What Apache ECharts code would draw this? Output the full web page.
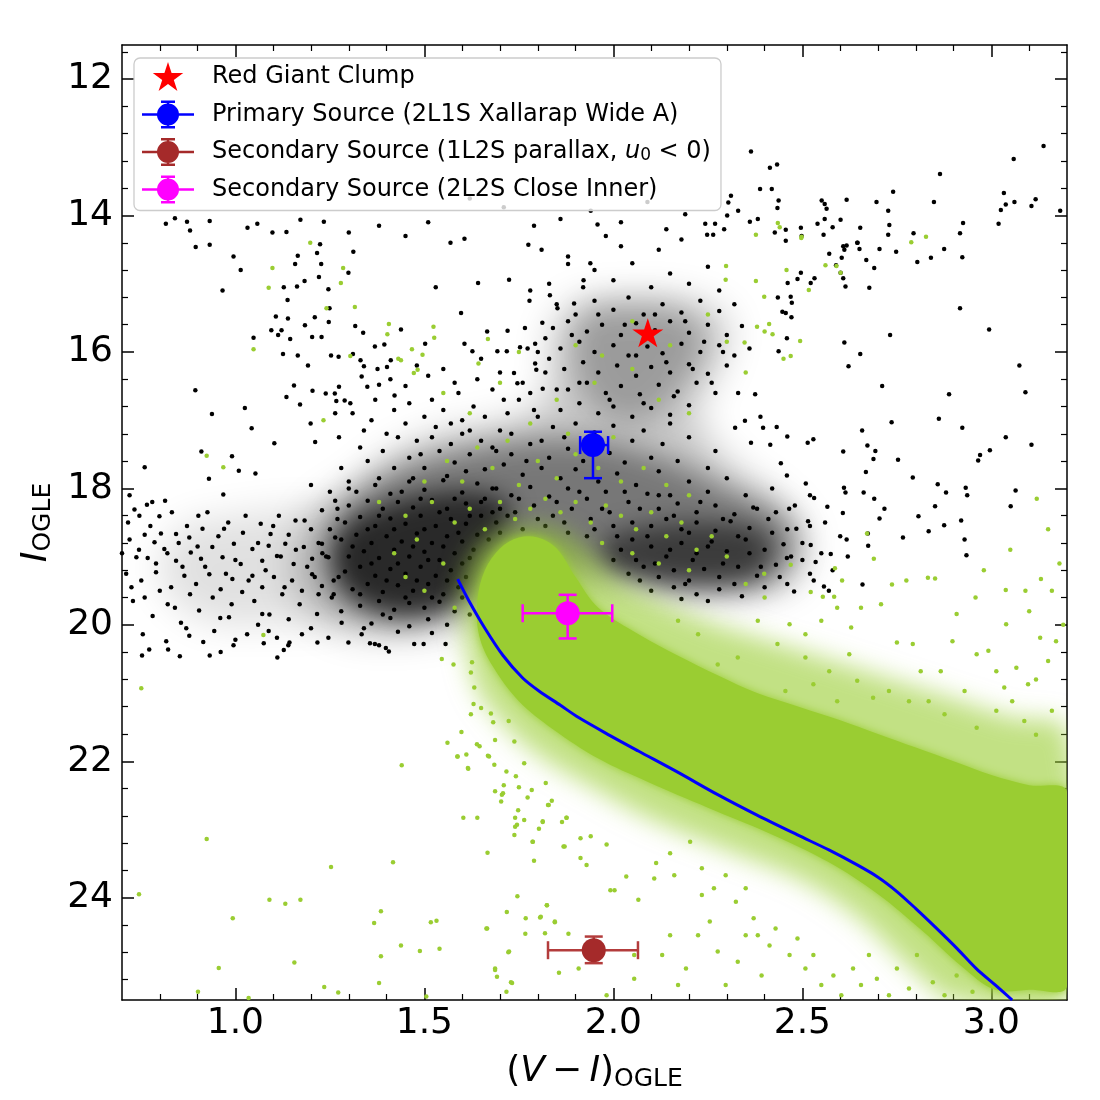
<!DOCTYPE html>
<html>
<head>
<meta charset="utf-8">
<script src="https://cdn.jsdelivr.net/npm/echarts@6/dist/echarts.min.js"></script>
<style>
html, body { margin: 0; padding: 0; background: #fff; }
#chart { width: 1100px; height: 1100px; }
</style>
</head>
<body>
<div id="chart"></div>
<script>
// axis ticks
var xMajorTicks = [1.0, 1.5, 2.0, 2.5, 3.0];
var xMinorTicks = [0.8, 0.9, 1.1, 1.2, 1.3, 1.4, 1.6, 1.7, 1.8, 1.9, 2.1, 2.2, 2.3, 2.4, 2.6, 2.7, 2.8, 2.9, 3.1];
var yMajorTicks = [12, 14, 16, 18, 20, 22, 24];
var yMinorTicks = [11.6, 12.4, 12.8, 13.2, 13.6, 14.4, 14.8, 15.2, 15.6, 16.4, 16.8, 17.2, 17.6, 18.4, 18.8, 19.2, 19.6,
    20.4, 20.8, 21.2, 21.6, 22.4, 22.8, 23.2, 23.6, 24.4, 24.8, 25.2];

// legend labels
var legendNames = [
    'Red Giant Clump',
    'Primary Source (2L1S Xallarap Wide A)',
    'Secondary Source (1L2S parallax, u0 < 0)',
    'Secondary Source (2L2S Close Inner)'
];

// [V-I, I]
var clumpStar = [2.091, 15.72];
// [x, y, xLow, xHigh, yLow, yHigh]
var primarySource = [1.946, 17.365, 1.912, 1.986, 17.17, 17.85];
var parallaxSource = [1.948, 24.77, 1.827, 2.065, 24.57, 24.96];
var closeInnerSource = [1.879, 19.83, 1.76, 1.997, 19.56, 20.2];

// isochrone
var isochrone = [[1.588, 19.33], [1.618, 19.65], [1.66, 20.05], [1.708, 20.45], [1.76, 20.78], [1.803, 20.97],
    [1.86, 21.18], [1.908, 21.36], [1.99, 21.62], [2.066, 21.85], [2.17, 22.16], [2.276, 22.49], [2.38, 22.79],
    [2.487, 23.08], [2.57, 23.3], [2.645, 23.52], [2.7, 23.7], [2.75, 23.91], [2.8, 24.16], [2.855, 24.45],
    [2.91, 24.75], [2.96, 25.04], [3.01, 25.28], [3.055, 25.5]];

// outlines of the crowded parts of the OGLE field cloud
var fieldWide = [[1.2, 18.4], [1.3, 18.0], [1.42, 17.5], [1.55, 17.2], [1.7, 17.05], [1.82, 16.7], [1.84, 15.7],
    [1.9, 15.3], [2.05, 15.2], [2.2, 15.25], [2.3, 15.55], [2.28, 16.2], [2.22, 16.9], [2.3, 17.6], [2.42, 18.1],
    [2.5, 18.6], [2.5, 19.2], [2.42, 19.5], [2.2, 19.55], [2.0, 19.4], [1.75, 19.6], [1.6, 20.0], [1.4, 20.15],
    [1.25, 20.0], [1.15, 19.3]];
var fieldLeftBand = [[0.85, 18.6], [1.0, 18.4], [1.2, 18.3], [1.32, 18.5], [1.32, 19.8], [1.1, 20.0], [0.9, 19.9],
    [0.8, 19.3]];
var fieldMid = [[1.28, 18.3], [1.4, 17.8], [1.55, 17.5], [1.75, 17.3], [1.95, 17.3], [2.15, 17.6], [2.3, 18.0],
    [2.45, 18.4], [2.48, 18.9], [2.42, 19.35], [2.2, 19.5], [2.0, 19.3], [1.8, 19.2], [1.65, 19.6], [1.5, 19.95],
    [1.35, 19.9], [1.25, 19.3]];
var fieldBlob = [[1.3, 18.55], [1.4, 18.25], [1.5, 18.1], [1.62, 18.05], [1.72, 18.2], [1.72, 18.6], [1.66, 19.0],
    [1.62, 19.5], [1.52, 19.8], [1.4, 19.8], [1.3, 19.5], [1.26, 19.0]];
var fieldSubgiant = [[1.98, 18.75], [2.1, 18.55], [2.25, 18.5], [2.38, 18.6], [2.42, 18.9], [2.38, 19.3],
    [2.25, 19.4], [2.1, 19.35], [1.98, 19.15]];
var fieldClump = [[1.92, 15.45], [2.05, 15.3], [2.2, 15.45], [2.24, 15.9], [2.18, 16.5], [2.08, 17.0], [1.97, 16.9],
    [1.9, 16.3]];

// outlines of the crowded parts of the simulated (green) cloud
var modelWide = [[1.6, 19.6], [1.62, 19.1], [1.68, 18.7], [1.76, 18.55], [1.85, 18.6], [1.93, 18.9], [2.0, 19.3],
    [2.1, 19.6], [2.25, 19.95], [2.45, 20.3], [2.65, 20.65], [2.85, 21.0], [3.05, 21.35], [3.2, 21.55], [3.2, 25.5],
    [2.9, 25.5], [2.8, 25.1], [2.65, 24.3], [2.5, 23.75], [2.3, 23.3], [2.1, 22.85], [1.95, 22.4], [1.8, 21.9],
    [1.7, 21.4], [1.63, 20.8]];
var modelCore = [[1.64, 19.65], [1.66, 19.2], [1.7, 18.88], [1.75, 18.72], [1.8, 18.72], [1.85, 18.88], [1.9, 19.3],
    [1.96, 19.75], [2.07, 20.15], [2.17, 20.45], [2.28, 20.75], [2.38, 21.0], [2.49, 21.2], [2.6, 21.4], [2.7, 21.6],
    [2.8, 21.8], [2.9, 22.0], [3.0, 22.2], [3.1, 22.35], [3.2, 22.45], [3.2, 25.3], [3.1, 25.35], [3.01, 25.35],
    [2.92, 25.0], [2.82, 24.5], [2.7, 23.95], [2.57, 23.48], [2.41, 23.05], [2.25, 22.68], [2.09, 22.3],
    [1.96, 21.96], [1.84, 21.53], [1.75, 21.12], [1.68, 20.6], [1.645, 20.16]];

// OGLE field stars (black)
var fieldStars = [
    [0.816, 14.12], [0.84, 14.04], [0.872, 14.09], [0.88, 14.22], [0.895, 14.46], [0.932, 14.08], [0.932, 14.43],
    [0.966, 15.1], [0.995, 14.6], [1.014, 14.8], [1.032, 14.18], [1.058, 14.12], [1.098, 14.25], [1.135, 14.24],
    [1.172, 14.06], [1.234, 14.09], [0.894, 16.56], [0.938, 16.91], [0.76, 17.69], [0.91, 17.46], [0.93, 17.86],
    [0.968, 18.09], [0.991, 17.53], [1.009, 17.74], [1.025, 16.82], [1.043, 17.12], [1.053, 17.78], [1.048, 15.79],
    [1.103, 17.34], [1.128, 15.05], [1.126, 16.03], [1.138, 15.24], [1.158, 14.71], [1.163, 15.04], [1.165, 14.59],
    [1.224, 14.42], [1.227, 14.71], [1.216, 14.55], [1.221, 14.9], [1.183, 14.96], [1.246, 15.08], [1.312, 14.53],
    [1.299, 14.84], [1.249, 15.36], [1.107, 15.48], [1.139, 15.51], [1.122, 15.68], [1.113, 15.75], [1.095, 15.68],
    [1.145, 15.81], [1.184, 15.61], [1.21, 15.49], [1.228, 15.78], [1.247, 15.56], [1.165, 16.05], [1.203, 15.78],
    [1.192, 16.2], [1.155, 16.49], [1.204, 16.57], [1.135, 16.66], [1.171, 16.77], [1.199, 17.05], [1.211, 17.32],
    [1.239, 16.61], [1.263, 16.61], [1.274, 16.51], [1.267, 16.72], [1.289, 16.71], [1.304, 16.75], [1.264, 16.9],
    [1.274, 17.25], [1.311, 16.03], [1.253, 16.05], [1.273, 16.07], [1.331, 16.12], [1.334, 16.36], [1.349, 16.51],
    [1.376, 16.25], [1.38, 16.48], [1.369, 15.92], [1.338, 15.72], [1.317, 15.62], [1.34, 16.21], [1.401, 16.22],
    [1.394, 15.89], [1.411, 16.12], [1.421, 16.64], [1.438, 15.67], [1.502, 15.88], [1.53, 15.05], [1.569, 14.4],
    [1.606, 14.34], [1.597, 15.43], [1.606, 15.88], [1.627, 15.99], [1.666, 15.7], [1.693, 15.99], [1.718, 15.99],
    [1.724, 14.94], [1.642, 14.99], [1.775, 14.43], [1.81, 14.5], [1.88, 14.71], [1.939, 14.7], [1.958, 14.13],
    [1.921, 14.95], [1.778, 15.25], [1.832, 15.17], [1.852, 15.36], [1.896, 15.29], [1.812, 15.57], [1.766, 15.65],
    [1.72, 15.69], [1.753, 15.93], [1.773, 15.95], [1.793, 15.88], [1.737, 16.31], [1.746, 16.46], [1.796, 16.26],
    [1.813, 16.54], [1.793, 16.17],
    [1.62, 13.75], [1.71, 13.88], [1.79, 14.15], [1.86, 14.05], [1.94, 13.93], [2.02, 14.1], [2.09, 13.8],
    [2.14, 14.2], [2.19, 13.98], [1.51, 14.1], [1.45, 14.3], [1.38, 14.15], [1.3, 14.25], [0.72, 18.1], [0.78, 18.2],
    // top right
    [2.364, 13.06], [2.414, 13.3], [2.433, 13.25], [2.388, 13.61], [2.419, 13.61], [2.437, 13.78], [2.434, 13.89],
    [2.311, 13.71], [2.304, 13.81], [2.33, 13.93], [2.301, 14.0], [2.243, 14.12], [2.269, 14.12], [2.293, 14.2],
    [2.248, 14.28], [2.264, 14.28], [2.361, 14.09], [2.382, 14.05], [2.427, 14.25], [2.456, 14.21], [2.456, 14.37],
    [2.496, 14.18], [2.498, 14.3], [2.54, 14.12], [2.551, 13.78], [2.559, 13.83], [2.564, 13.9], [2.559, 14.05],
    [2.556, 14.28], [2.58, 14.17], [2.601, 14.06], [2.617, 13.77], [2.653, 14.18], [2.646, 14.4], [2.696, 13.8],
    [2.727, 13.93], [2.73, 14.14], [2.727, 14.28], [2.74, 13.65], [2.794, 14.26], [2.848, 13.8], [2.864, 13.39],
    [2.917, 14.26], [2.925, 14.11], [3.019, 14.12], [3.025, 13.92], [3.033, 13.67], [3.038, 13.84], [3.059, 13.17],
    [3.061, 13.8], [3.106, 13.86], [3.117, 13.76], [3.138, 12.98], [3.182, 13.93],
    [2.608, 14.45], [2.617, 14.44], [2.651, 14.49], [2.704, 14.49], [2.748, 14.53], [2.804, 14.68], [2.84, 14.62],
    [2.875, 14.49], [2.923, 14.61], [2.917, 15.36], [2.994, 15.67], [3.074, 16.2], [3.09, 16.59], [2.732, 15.75],
    [2.677, 15.06], [2.669, 14.65], [2.69, 14.77], [2.645, 14.4], [2.611, 14.5], [2.614, 15.04], [2.604, 14.62],
    [2.571, 14.56], [2.589, 14.73], [2.601, 14.84], [2.608, 14.92], [2.522, 14.99], [2.532, 14.92], [2.496, 14.84],
    [2.487, 14.93], [2.461, 14.99], [2.469, 15.19], [2.435, 15.2], [2.472, 15.28], [2.456, 15.43], [2.447, 15.41],
    [2.471, 15.49], [2.459, 15.8], [2.437, 15.99], [2.611, 15.86], [2.653, 16.03], [2.622, 16.21], [2.711, 16.5],
    [2.888, 16.62], [2.861, 16.98], [2.923, 17.11], [3.038, 17.25], [3.106, 17.36], [2.996, 17.44], [2.97, 17.51],
    [2.965, 17.59], [2.753, 17.58], [2.736, 17.03], [2.688, 17.57], [2.693, 17.45], [2.668, 17.76], [2.658, 17.15],
    [2.672, 17.37], [2.608, 17.46], [2.514, 17.33], [2.529, 17.28], [2.46, 17.24], [2.432, 17.1], [2.443, 17.63],
    [2.459, 17.81], [2.389, 16.95], [2.396, 17.11], [2.364, 17.33], [2.375, 16.62], [2.348, 17.01], [2.322, 17.11],
    [2.415, 17.36], [2.792, 17.84], [2.858, 17.94], [2.88, 18.06], [2.932, 17.99], [2.936, 18.1], [3.064, 18.03],
    [3.051, 18.26], [2.807, 18.41], [2.834, 18.63], [2.851, 18.26], [2.875, 18.54], [2.92, 18.47], [2.929, 18.75],
    [2.934, 18.98], [2.766, 18.72], [2.704, 18.44], [2.717, 18.3], [2.69, 18.15], [2.673, 18.66], [2.674, 18.84],
    [2.662, 18.06], [2.61, 17.99], [2.614, 18.06], [2.566, 18.27], [2.607, 18.36], [2.617, 18.75], [2.659, 19.41],
    [2.557, 19.44], [2.478, 19.51], [2.535, 19.08], [2.522, 18.83], [2.575, 18.96], [2.515, 18.48], [2.465, 18.3],
    [2.509, 17.93], [2.531, 18.14], [2.484, 18.59], [2.459, 19.02],
    // bottom of the left band
    [0.753, 20.45], [0.772, 20.36], [0.822, 20.36], [0.853, 20.46], [0.932, 20.45], [0.961, 20.4], [0.995, 20.3],
    [1.075, 20.27], [1.111, 20.48], [1.128, 20.37], [1.143, 20.26], [1.217, 20.26], [1.356, 20.27], [1.38, 20.3],
    [1.398, 20.34], [1.406, 20.39], [1.473, 20.28], [1.498, 20.28], [1.556, 20.28],
    // left band
    [0.733, 18.31], [0.766, 18.24], [0.814, 18.18], [0.832, 18.35], [0.799, 18.41], [0.746, 18.4], [0.716, 18.5],
    [0.76, 18.68], [0.803, 18.66], [0.843, 18.67], [0.872, 18.55], [0.902, 18.4], [0.926, 18.35], [0.913, 18.59],
    [0.97, 18.59], [0.981, 18.5], [1.027, 18.4], [1.067, 18.52], [1.093, 18.67], [1.115, 18.4], [1.141, 18.68],
    [1.159, 18.47], [1.183, 18.47], [1.229, 18.32], [1.264, 18.18], [0.786, 18.79], [0.878, 18.72], [0.812, 18.89],
    [0.738, 19.01], [0.768, 19.02], [0.843, 19.06], [0.882, 18.94], [0.909, 19.03], [0.939, 18.86], [0.966, 19.01],
    [0.996, 18.81], [1.014, 19.11], [1.045, 18.89], [1.071, 19.06], [1.088, 18.84], [1.11, 18.99], [1.132, 18.81],
    [1.154, 19.11], [1.181, 18.86], [1.203, 19.03], [1.229, 18.81], [1.246, 19.01], [1.264, 18.72], [0.711, 19.25],
    [0.751, 19.35], [0.79, 19.23], [0.83, 19.45], [0.865, 19.28], [0.896, 19.4], [0.931, 19.26], [0.961, 19.48],
    [0.992, 19.33], [1.018, 19.52], [1.045, 19.28], [1.071, 19.45], [1.102, 19.3], [1.124, 19.55], [1.15, 19.35],
    [1.176, 19.5], [1.203, 19.26], [1.229, 19.43], [1.255, 19.6], [1.273, 19.3], [0.729, 19.65], [0.781, 19.87],
    [0.821, 19.7], [0.856, 19.97], [0.904, 19.79], [0.944, 20.09], [0.983, 19.89], [1.031, 20.14], [1.071, 19.84],
    [1.11, 20.19], [1.141, 19.92], [1.176, 20.14], [1.216, 19.84], [1.246, 20.19], [1.281, 19.97], [0.755, 20.14],
    [0.817, 20.24], [0.878, 20.16], [1.088, 20.09], [1.299, 20.26], [1.334, 20.14], [1.369, 20.28],
    [0.72, 18.75], [0.745, 18.9], [0.775, 18.55], [0.79, 19.1], [0.82, 18.95], [0.85, 18.8], [0.86, 19.15],
    [0.88, 19.55], [0.9, 18.85], [0.92, 19.15], [0.94, 19.6], [0.955, 18.7], [0.975, 19.25], [0.99, 19.7],
    [1.0, 19.05], [1.02, 18.65], [1.035, 19.35], [1.05, 19.65], [1.06, 18.8], [1.08, 19.2], [1.09, 19.85],
    [1.1, 18.55], [1.12, 19.0], [1.13, 19.45], [1.16, 18.9], [1.17, 19.7], [1.19, 19.15], [1.2, 18.6],
    [1.22, 19.55], [1.24, 19.0], [1.26, 19.35], [1.27, 18.45], [0.725, 19.45], [0.76, 19.6], [0.8, 19.5],
    [0.84, 19.75], [0.87, 20.05], [0.915, 20.25], [0.96, 19.9], [1.0, 20.22], [1.06, 20.0], [1.14, 20.3],
    [1.2, 20.05], [1.23, 18.95], [0.7, 18.95],
    // turn-off blob
    [1.32, 18.05], [1.37, 17.95], [1.41, 18.08], [1.46, 17.9], [1.5, 18.02], [1.55, 17.88], [1.6, 18.06],
    [1.64, 17.93], [1.69, 18.0], [1.3, 18.25], [1.35, 18.18], [1.39, 18.3], [1.43, 18.2], [1.47, 18.28],
    [1.52, 18.17], [1.56, 18.3], [1.61, 18.22], [1.66, 18.15], [1.7, 18.3], [1.29, 18.5], [1.33, 18.42],
    [1.37, 18.55], [1.41, 18.44], [1.45, 18.52], [1.49, 18.4], [1.53, 18.55], [1.57, 18.45], [1.61, 18.52],
    [1.65, 18.4], [1.69, 18.5], [1.28, 18.75], [1.32, 18.68], [1.36, 18.8], [1.4, 18.7], [1.44, 18.78],
    [1.48, 18.66], [1.52, 18.8], [1.56, 18.7], [1.6, 18.78], [1.64, 18.68], [1.3, 19.0], [1.34, 18.92],
    [1.38, 19.02], [1.42, 18.9], [1.46, 19.0], [1.5, 18.93], [1.54, 19.05], [1.58, 18.95], [1.62, 19.02],
    [1.29, 19.22], [1.33, 19.15], [1.37, 19.28], [1.41, 19.18], [1.45, 19.25], [1.49, 19.15], [1.53, 19.28],
    [1.57, 19.2], [1.61, 19.3], [1.31, 19.48], [1.35, 19.4], [1.39, 19.52], [1.43, 19.42], [1.47, 19.5],
    [1.51, 19.4], [1.55, 19.55], [1.59, 19.45], [1.33, 19.72], [1.38, 19.65], [1.42, 19.78], [1.46, 19.68],
    [1.5, 19.75], [1.54, 19.66], [1.58, 19.8], [1.36, 19.98], [1.41, 19.9], [1.46, 20.02], [1.51, 19.92],
    [1.56, 20.0],
    [1.27, 18.3], [1.31, 18.85], [1.33, 19.55], [1.35, 18.6], [1.36, 19.1], [1.38, 18.4], [1.39, 19.85],
    [1.4, 19.35], [1.42, 18.6], [1.43, 19.1], [1.44, 18.05], [1.45, 19.6], [1.47, 18.85], [1.48, 19.35],
    [1.49, 18.15], [1.5, 18.6], [1.51, 19.05], [1.52, 19.6], [1.54, 18.35], [1.55, 18.85], [1.56, 19.35],
    [1.58, 18.15], [1.59, 18.65], [1.6, 19.1], [1.62, 18.4], [1.63, 18.9], [1.65, 18.2], [1.67, 18.75],
    [1.68, 18.35], [1.26, 19.55], [1.28, 19.8], [1.3, 18.0], [1.34, 20.05], [1.43, 20.1], [1.52, 20.12],
    [1.6, 19.6], [1.62, 19.85], [1.25, 18.6], [1.22, 18.8], [1.21, 19.3],
    // above the green core
    [1.68, 17.4], [1.73, 17.5], [1.78, 17.35], [1.83, 17.55], [1.88, 17.42], [1.92, 17.6], [1.99, 17.48],
    [2.03, 17.62], [1.66, 17.72], [1.71, 17.65], [1.76, 17.8], [1.81, 17.7], [1.86, 17.85], [1.9, 17.72],
    [1.96, 17.9], [2.01, 17.78], [2.06, 17.95], [1.68, 18.0], [1.73, 18.1], [1.78, 17.98], [1.83, 18.12],
    [1.88, 18.0], [1.93, 18.15], [1.98, 18.05], [2.04, 18.2], [2.09, 18.08], [1.74, 18.35], [1.79, 18.25],
    [1.84, 18.4], [1.89, 18.3], [1.94, 18.45], [1.99, 18.35], [2.05, 18.5], [1.76, 18.6], [1.82, 18.55],
    [1.88, 18.65], [1.95, 18.6], [2.01, 18.7], [1.46, 17.55], [1.5, 17.7], [1.54, 17.45], [1.58, 17.62],
    [1.62, 17.5], [1.47, 17.85], [1.56, 17.82], [1.61, 17.75], [1.42, 17.7], [1.38, 17.85], [1.52, 17.25],
    [1.6, 17.2], [1.65, 17.3], [1.7, 17.15], [1.57, 17.05], [1.48, 17.3], [1.35, 17.6], [1.3, 17.9], [1.25, 18.05],
    [1.2, 17.95], [1.28, 17.7],
    [1.7, 18.65], [1.72, 18.4], [1.75, 18.15], [1.8, 18.45], [1.85, 18.2], [1.87, 18.5], [1.91, 18.05],
    [1.93, 18.7], [1.97, 18.3], [2.0, 18.55], [2.03, 18.05], [2.07, 18.3], [2.09, 18.7], [2.12, 18.1],
    [2.16, 18.4], [2.2, 18.65], [2.23, 18.2], [2.29, 18.45], [2.33, 18.7], [2.38, 18.3],
    // subgiant branch
    [2.02, 18.9], [2.06, 19.05], [2.1, 18.85], [2.14, 19.0], [2.18, 18.8], [2.22, 18.95], [2.26, 18.78],
    [2.3, 18.92], [2.35, 18.75], [2.4, 18.9], [2.45, 18.82], [2.04, 19.25], [2.08, 19.15], [2.12, 19.3],
    [2.16, 19.2], [2.2, 19.35], [2.24, 19.18], [2.28, 19.3], [2.33, 19.15], [2.38, 19.28], [2.43, 19.12],
    [2.5, 19.05], [2.1, 18.55], [2.14, 18.45], [2.18, 18.6], [2.22, 18.5], [2.27, 18.62], [2.31, 18.48],
    [2.36, 18.58], [2.41, 18.45], [2.46, 18.6], [2.52, 18.55], [2.12, 18.3], [2.17, 18.22], [2.22, 18.35],
    [2.27, 18.25], [2.32, 18.38], [2.37, 18.28], [2.43, 18.35], [2.1, 19.5], [2.16, 19.45], [2.22, 19.55],
    [2.28, 19.48], [2.34, 19.58], [2.4, 19.45], [2.46, 19.4], [2.25, 19.65], [2.18, 19.62], [2.55, 18.95],
    [2.58, 19.2], [2.6, 18.7], [2.53, 19.35], [2.48, 18.25], [2.52, 18.1], [2.15, 18.1], [2.25, 18.05],
    [2.35, 18.1], [2.42, 18.0], [2.3, 17.85], [2.2, 17.9], [2.12, 17.75], [2.1, 17.55], [2.17, 17.6],
    [2.25, 17.7], [2.05, 17.3], [2.13, 17.35], [2.2, 17.25], [2.27, 17.45],
    [2.0, 19.05], [2.05, 18.75], [2.07, 19.35], [2.11, 19.1], [2.15, 18.9], [2.19, 19.4], [2.21, 19.05],
    [2.25, 18.85], [2.29, 19.1], [2.32, 19.4], [2.36, 18.95], [2.39, 19.15], [2.42, 18.65], [2.44, 19.3],
    [2.47, 19.0], [2.5, 18.8], [2.52, 19.25], [2.56, 18.5], [2.57, 19.5], [2.62, 19.0],
    // giant branch and clump
    [1.85, 15.3], [1.9, 15.45], [1.95, 15.25], [2.0, 15.38], [2.04, 15.2], [2.08, 15.45], [2.13, 15.3],
    [2.18, 15.42], [2.23, 15.25], [2.28, 15.4], [1.84, 15.65], [1.88, 15.55], [1.93, 15.7], [1.97, 15.6],
    [2.02, 15.75], [2.06, 15.58], [2.11, 15.68], [2.15, 15.55], [2.2, 15.72], [2.25, 15.6], [2.3, 15.75],
    [2.34, 15.62], [1.86, 15.95], [1.91, 15.85], [1.95, 16.0], [2.0, 15.9], [2.04, 16.05], [2.09, 15.92],
    [2.13, 16.02], [2.18, 15.88], [2.23, 16.0], [2.28, 15.9], [2.32, 16.05], [1.87, 16.25], [1.92, 16.15],
    [1.96, 16.3], [2.01, 16.2], [2.06, 16.35], [2.1, 16.22], [2.15, 16.3], [2.2, 16.18], [2.25, 16.32],
    [2.3, 16.2], [1.88, 16.55], [1.93, 16.45], [1.98, 16.6], [2.02, 16.5], [2.07, 16.62], [2.12, 16.48],
    [2.17, 16.58], [2.22, 16.45], [2.27, 16.6], [1.86, 16.85], [1.91, 16.75], [1.96, 16.9], [2.0, 16.8],
    [2.05, 16.95], [2.1, 16.82], [2.15, 16.92], [2.2, 16.78], [1.84, 17.1], [1.9, 17.05], [1.95, 17.18],
    [2.0, 17.08], [2.08, 17.15], [2.15, 17.05], [1.8, 16.95], [1.78, 16.6], [1.82, 16.3], [1.8, 16.0],
    [1.82, 15.8], [1.78, 15.1], [1.83, 15.0], [1.92, 15.05], [2.0, 14.95], [2.1, 15.05], [2.2, 15.0],
    [2.28, 15.1], [1.95, 14.8], [2.05, 14.7], [2.15, 14.85], [2.25, 14.75], [2.02, 14.45], [1.88, 14.6],
    [2.12, 14.5], [1.98, 14.3], [2.18, 14.35],
    [1.45, 16.5], [1.52, 16.7], [1.58, 16.45], [1.63, 16.8], [1.68, 16.55], [1.72, 16.9], [1.5, 16.95],
    [1.42, 16.85], [1.6, 17.0], [1.75, 16.7], [1.7, 16.3], [1.55, 16.25], [1.65, 16.1], [1.48, 16.2],
    [1.36, 17.0], [1.4, 17.2], [1.33, 17.4], [1.45, 17.05],
    [1.31, 16.9], [1.34, 17.15], [1.37, 16.7], [1.39, 17.45], [1.41, 16.4], [1.43, 17.25], [1.46, 16.75],
    [1.49, 17.5], [1.51, 16.35], [1.53, 17.1], [1.55, 16.85], [1.57, 17.35], [1.59, 16.6], [1.62, 17.15],
    [1.64, 16.4], [1.66, 16.95], [1.69, 17.45], [1.71, 16.7], [1.73, 17.2], [1.76, 16.45], [1.77, 17.6],
    [1.79, 16.85], [1.81, 17.3], [1.83, 16.1], [1.85, 16.55], [1.87, 17.25], [1.89, 15.75], [1.91, 16.45],
    [1.94, 17.35], [1.96, 15.45], [1.99, 16.7], [2.03, 15.6], [2.06, 16.05], [2.08, 16.75], [2.11, 15.45],
    [2.14, 16.15], [2.16, 16.65], [2.19, 15.55], [2.21, 16.25], [2.24, 15.85], [2.26, 16.45], [2.29, 16.0],
    [2.32, 15.3], [2.33, 16.6], [2.36, 15.95]
];

// simulated stars (green)
var modelStars = [
    [1.048, 15.96], [1.088, 15.06], [1.098, 14.77], [1.198, 14.4], [1.285, 14.77], [1.279, 14.99], [1.316, 15.34],
    [1.241, 15.36], [1.233, 17.0], [1.304, 16.06], [1.406, 15.59], [1.402, 15.74], [1.438, 16.12], [1.431, 16.1],
    [1.467, 15.96], [1.495, 16.04], [1.472, 16.31], [1.482, 16.26], [1.524, 15.63], [1.526, 15.79], [1.643, 16.17],
    [1.668, 15.81], [0.924, 17.52], [0.968, 17.69], [1.074, 20.15],
    [2.377, 14.28], [2.435, 14.11], [2.44, 14.17], [2.498, 14.31], [2.788, 14.39], [2.827, 14.31],
    [3.12, 18.15], [3.131, 19.33], [3.038, 19.49], [3.09, 19.5], [3.16, 19.5], [2.958, 19.6], [2.851, 19.32],
    [2.832, 19.31], [2.775, 19.35], [2.737, 19.41], [2.689, 19.03], [2.671, 18.66], [2.586, 19.17], [2.605, 19.35],
    [2.554, 19.59], [2.584, 19.59], [2.522, 19.52], [2.469, 19.12], [2.399, 19.25],
    [2.469, 16.06], [2.494, 15.84], [2.347, 15.86], [2.421, 15.74], [2.412, 15.59], [2.38, 15.63], [2.399, 15.19],
    [2.497, 14.33], [2.458, 14.8], [2.297, 14.94], [2.377, 14.96], [2.298, 14.74], [2.517, 15.09], [2.561, 14.73],
    [2.59, 14.74], [2.601, 14.84],
    // lower left
    [0.751, 20.93], [0.924, 23.14], [0.745, 23.95], [0.993, 24.3], [1.09, 24.03], [1.132, 24.09], [1.172, 24.03],
    [0.956, 25.03], [0.901, 25.38], [1.035, 25.47], [1.156, 24.95], [1.253, 23.55], [1.235, 25.31], [1.272, 25.39],
    [1.367, 24.37], [1.385, 24.2], [1.38, 25.25], [1.385, 24.86], [1.417, 23.48], [1.44, 22.06], [1.438, 24.7],
    [1.488, 24.78], [1.517, 24.36], [1.532, 24.34], [1.54, 24.75], [1.505, 25.45], [1.603, 22.83], [1.64, 22.83],
    [1.667, 23.34], [1.664, 24.45], [1.687, 25.06], [1.692, 25.16], [1.722, 24.8], [1.718, 24.21], [1.746, 23.98],
    [1.768, 24.3], [1.767, 24.53], [1.806, 24.29], [1.824, 24.11], [1.819, 24.52], [1.845, 24.36], [1.881, 24.53],
    [1.856, 25.1], [1.732, 25.25], [1.717, 25.38], [1.79, 23.46], [1.786, 23.18], [1.803, 22.99], [1.813, 22.89],
    [1.738, 23.08], [1.74, 22.96], [1.764, 22.86], [1.748, 22.72], [1.868, 23.25], [1.864, 22.89], [1.876, 22.83],
    [1.827, 22.64], [1.837, 22.58], [1.773, 22.53], [1.705, 22.49], [1.703, 22.59], [1.71, 22.35], [1.75, 22.38],
    [1.784, 22.42], [1.821, 22.32], [1.616, 22.11], [1.588, 21.93], [1.561, 21.73], [1.611, 21.9], [1.646, 21.78],
    [1.668, 21.92], [1.687, 21.69], [1.685, 22.05], [1.717, 22.15], [1.742, 22.22], [1.764, 22.03], [1.598, 21.57],
    [1.623, 21.31], [1.63, 21.16], [1.65, 21.22], [1.676, 21.3], [1.682, 21.43], [1.723, 21.41], [1.738, 21.71],
    [1.623, 20.7], [1.626, 20.55], [1.577, 20.58], [1.546, 20.5], [1.632, 20.92],
    // below the main sequence
    [1.587, 21.93], [1.615, 22.1], [1.639, 21.75], [1.671, 21.93], [1.687, 22.44], [1.708, 22.47], [1.74, 22.83],
    [1.745, 22.93], [1.787, 23.18], [1.813, 22.88], [1.829, 22.64], [1.876, 22.83], [1.871, 23.25], [1.913, 23.13],
    [1.94, 23.1], [1.913, 23.42], [1.929, 23.52], [1.982, 23.22], [2.003, 23.89], [2.034, 23.69], [2.066, 24.03],
    [2.108, 23.72], [2.113, 23.49], [2.15, 23.35], [2.203, 23.18], [2.161, 23.67], [2.234, 23.57], [2.266, 23.86],
    [2.297, 23.67], [2.324, 24.06], [2.35, 23.86], [2.371, 24.3], [2.382, 24.55], [2.413, 24.7], [2.429, 24.45],
    [2.466, 24.84], [2.487, 24.6], [2.508, 25.04], [2.529, 24.84], [2.55, 25.28], [2.582, 25.14], [2.603, 25.43],
    [2.634, 25.04], [2.655, 25.28], [2.676, 24.84], [2.697, 25.19], [2.729, 25.43], [2.75, 25.04], [2.782, 25.33],
    [2.803, 24.84], [2.845, 25.24], [2.876, 25.43], [2.908, 25.14], [2.95, 25.38], [1.666, 24.45], [1.687, 25.04],
    [1.729, 25.24], [1.724, 24.79], [1.808, 24.28], [1.824, 24.11], [1.845, 24.35], [1.908, 25.04], [1.992, 23.89],
    [1.982, 25.43], [2.055, 24.84], [2.055, 25.19], [2.129, 24.84], [2.15, 24.55], [2.171, 25.28], [2.192, 25.04],
    [2.224, 24.55], [2.255, 24.35], [2.276, 24.79], [2.297, 25.28], [2.329, 24.94], [2.35, 24.55], [2.392, 25.14],
    [2.234, 23.96],
    // above the main sequence
    [2.466, 19.99], [2.508, 20.14], [2.592, 19.75], [2.629, 20.04], [2.708, 19.7], [2.75, 20.26], [2.792, 20.28],
    [2.813, 20.68], [2.866, 20.68], [2.897, 20.24], [2.908, 19.84], [2.961, 20.43], [2.992, 20.38], [3.013, 20.68],
    [3.034, 20.92], [3.039, 19.99], [3.066, 20.63], [3.097, 20.87], [3.118, 20.8], [3.129, 20.19], [3.15, 20.53],
    [3.171, 20.24], [2.687, 21.07], [2.729, 20.97], [2.782, 21.12], [2.834, 21.12], [2.876, 21.31], [2.929, 20.97],
    [2.961, 21.51], [3.013, 21.26], [3.055, 21.12], [3.087, 21.41], [3.118, 21.61], [3.16, 21.26], [2.655, 19.75],
    [2.55, 19.94], [2.434, 20.28], [2.382, 19.94], [2.329, 20.48], [2.276, 20.58], [2.224, 20.14], [2.171, 19.94],
    [2.508, 20.48], [2.571, 20.68], [2.624, 20.43], [2.645, 20.82], [2.529, 20.87], [2.455, 20.97], [2.592, 21.12],
    [3.15, 18.6], [3.05, 18.9], [3.18, 19.1], [2.98, 19.2], [3.1, 19.8], [3.19, 20.0],
    // mixed into the field cloud
    [1.52, 18.2], [1.58, 18.5], [1.62, 18.3], [1.66, 18.6], [1.7, 18.2], [1.74, 18.45], [1.78, 18.3], [1.82, 18.15],
    [1.86, 18.35], [1.9, 18.2], [1.94, 18.5], [1.98, 18.25], [2.02, 18.4], [2.06, 18.6], [2.1, 18.35], [2.14, 18.7],
    [2.18, 18.5], [2.22, 18.9], [2.26, 18.7], [2.3, 19.0], [2.35, 19.4], [2.4, 19.6], [2.2, 19.2], [2.05, 18.95],
    [2.12, 19.1], [1.97, 18.8], [1.6, 17.9], [1.68, 17.7], [1.75, 17.95], [1.8, 17.6], [1.85, 17.85], [1.9, 17.5],
    [1.96, 17.7], [2.02, 17.9], [2.08, 17.7], [2.14, 17.95], [2.2, 18.1], [1.72, 17.3], [1.88, 17.2], [2.0, 17.25],
    [1.78, 17.05], [1.64, 17.4], [1.56, 17.6], [1.5, 17.9], [1.45, 18.4], [1.48, 18.75], [1.55, 19.1], [1.5, 19.5],
    [1.58, 19.75], [1.45, 19.3], [1.42, 18.95], [1.38, 18.2], [1.55, 16.6], [1.62, 16.9], [1.7, 16.45], [1.85, 16.7],
    [1.95, 16.45], [2.05, 16.25], [2.12, 16.7], [2.2, 16.9], [1.97, 16.05], [2.15, 15.9], [2.25, 15.45], [2.3, 15.85],
    [2.05, 15.55], [1.9, 15.9], [1.75, 16.0], [2.35, 16.3], [2.4, 15.7], [2.45, 16.1]
];

var FONT = 'DejaVu Sans';
var GREEN = '#9acd32';
// the outline itself is drawn off the plot, only its blurred shadow lands in place
var SHADOW_SHIFT = 3000;

// legend icons, drawn in a 65 x 32 box so the text starts after a gap
var starPath = 'M26 1 L29.59 12.06 L41.22 12.06 L31.81 18.89 L35.4 29.94 L26 23.11 L16.6 29.94 L20.19 18.89 ' +
    'L10.78 12.06 L22.41 12.06 Z';
var starIcon = 'path://M0 0 L0.01 0 L0 0.01 Z ' + starPath + ' M65 32 L64.99 32 L65 31.99 Z';
var errIcon = 'path://M0 0 L0.01 0 L0 0.01 Z M0 14.75 L52 14.75 L52 17.25 L0 17.25 Z ' +
    'M24.75 3 L27.25 3 L27.25 29 L24.75 29 Z M19 2 L33 2 L33 4.5 L19 4.5 Z M19 27.5 L33 27.5 L33 30 L19 30 Z ' +
    'M15 16 A11 11 0 1 1 37 16 A11 11 0 1 1 15 16 Z M65 32 L64.99 32 L65 31.99 Z';

// crowded region: soft (shadow only) or plain fill
function hullSeries(points, color, blur, z, soft) {
    return {
        type: 'custom',
        data: points,
        silent: true,
        z: z,
        clip: true,
        renderItem: function (params, api) {
            if (params.dataIndex !== 0) {
                return null;
            }
            var shift = soft ? SHADOW_SHIFT : 0;
            var pts = points.map(function (p) {
                var c = api.coord(p);
                return [c[0], c[1] - shift];
            });
            return {
                type: 'polygon',
                shape: { points: pts, smooth: 0.35 },
                style: {
                    fill: soft ? '#000' : color,
                    shadowBlur: blur,
                    shadowColor: color,
                    shadowOffsetY: shift
                }
            };
        }
    };
}

// marker + error bars of one source
function sourceSeries(name, src, color, barColor) {
    return {
        name: name,
        type: 'custom',
        z: 10,
        data: [src],
        itemStyle: { color: color },
        renderItem: function (params, api) {
            var c = api.coord([api.value(0), api.value(1)]);
            var l = api.coord([api.value(2), api.value(1)]);
            var r = api.coord([api.value(3), api.value(1)]);
            var t = api.coord([api.value(0), api.value(4)]);
            var b = api.coord([api.value(0), api.value(5)]);
            var cap = 9;
            var ls = { stroke: barColor, lineWidth: 2.5 };
            return {
                type: 'group',
                children: [
                    { type: 'line', shape: { x1: l[0], y1: l[1], x2: r[0], y2: r[1] }, style: ls },
                    { type: 'line', shape: { x1: t[0], y1: t[1], x2: b[0], y2: b[1] }, style: ls },
                    { type: 'line', shape: { x1: l[0], y1: l[1] - cap, x2: l[0], y2: l[1] + cap }, style: ls },
                    { type: 'line', shape: { x1: r[0], y1: r[1] - cap, x2: r[0], y2: r[1] + cap }, style: ls },
                    { type: 'line', shape: { x1: t[0] - cap, y1: t[1], x2: t[0] + cap, y2: t[1] }, style: ls },
                    { type: 'line', shape: { x1: b[0] - cap, y1: b[1], x2: b[0] + cap, y2: b[1] }, style: ls },
                    { type: 'circle', shape: { cx: c[0], cy: c[1], r: 12 }, style: { fill: color } }
                ]
            };
        }
    };
}

function tickAxis(pos, gridIndex, min, max, values, len, labels, inverse) {
    return {
        type: 'value',
        gridIndex: gridIndex,
        position: pos,
        min: min,
        max: max,
        inverse: !!inverse,
        splitLine: { show: false },
        axisLine: { show: gridIndex === 0, onZero: false, lineStyle: { color: '#000', width: 1.5 } },
        axisTick: {
            show: true, inside: true, length: len, customValues: values,
            lineStyle: { color: '#000', width: len > 8 ? 1.5 : 1.2 }
        },
        axisLabel: labels ? {
            show: true, customValues: values, fontFamily: FONT, fontSize: 36, color: '#000',
            margin: labels.margin, formatter: labels.formatter
        } : { show: false }
    };
}

var chart = echarts.init(document.getElementById('chart'));

var xMain = tickAxis('bottom', 0, 0.7, 3.2, xMajorTicks, 12,
    { margin: 6, formatter: function (v) { return v.toFixed(1); } });
xMain.name = '{n|(}{i|V}{n|\u2009\u2212\u2009}{i|I}{n|)}{s|OGLE}';
xMain.nameLocation = 'middle';
xMain.nameGap = 52;
xMain.nameTextStyle = {
    rich: {
        n: { fontFamily: FONT, fontSize: 36, color: '#000', lineHeight: 40 },
        i: { fontFamily: FONT, fontSize: 36, fontStyle: 'italic', color: '#000', lineHeight: 40 },
        s: { fontFamily: FONT, fontSize: 25, color: '#000', lineHeight: 14, verticalAlign: 'bottom' }
    }
};

var yMain = tickAxis('left', 0, 11.5, 25.5, yMajorTicks, 12,
    { margin: 9, formatter: function (v) { return String(v); } }, true);
yMain.name = '{i|I}{s|OGLE}';
yMain.nameLocation = 'middle';
yMain.nameRotate = 90;
yMain.nameGap = 64;
yMain.nameTextStyle = {
    rich: {
        i: { fontFamily: FONT, fontSize: 36, fontStyle: 'italic', color: '#000', lineHeight: 40 },
        s: { fontFamily: FONT, fontSize: 25, color: '#000', lineHeight: 14, verticalAlign: 'bottom' }
    }
};

var gridBox = { left: 122, right: 33, top: 45, bottom: 100 };

var option = {
    animation: false,
    backgroundColor: '#fff',
    grid: [
        Object.assign({ show: false }, gridBox),
        Object.assign({ show: false }, gridBox)
    ],
    xAxis: [
        xMain,
        tickAxis('top', 0, 0.7, 3.2, xMajorTicks, 12, null),
        tickAxis('bottom', 1, 0.7, 3.2, xMinorTicks, 6, null),
        tickAxis('top', 1, 0.7, 3.2, xMinorTicks, 6, null)
    ],
    yAxis: [
        yMain,
        tickAxis('right', 0, 11.5, 25.5, yMajorTicks, 12, null, true),
        tickAxis('left', 1, 11.5, 25.5, yMinorTicks, 6, null, true),
        tickAxis('right', 1, 11.5, 25.5, yMinorTicks, 6, null, true)
    ],
    legend: {
        left: 134,
        top: 58,
        orient: 'vertical',
        selectedMode: false,
        itemWidth: 65,
        itemHeight: 32,
        itemGap: 5.5,
        padding: [3, 10, 5, 8],
        backgroundColor: 'rgba(255,255,255,0.8)',
        borderColor: '#cccccc',
        borderWidth: 1.3,
        borderRadius: 6,
        data: [
            { name: legendNames[0], icon: starIcon },
            { name: legendNames[1], icon: errIcon },
            { name: legendNames[2], icon: errIcon },
            { name: legendNames[3], icon: errIcon }
        ],
        formatter: function (name) {
            if (name === legendNames[2]) {
                return '{n|Secondary Source (1L2S parallax, }{i|u}{s|0}{n| < 0)}';
            }
            return '{n|' + name + '}';
        },
        textStyle: {
            rich: {
                n: { fontFamily: FONT, fontSize: 24, color: '#000' },
                i: { fontFamily: FONT, fontSize: 24, fontStyle: 'italic', color: '#000' },
                s: { fontFamily: FONT, fontSize: 17, color: '#000', lineHeight: 4, verticalAlign: 'bottom' }
            }
        }
    },
    series: [
        hullSeries(fieldWide, 'rgba(0,0,0,0.22)', 36, 1, true),
        hullSeries(fieldLeftBand, 'rgba(0,0,0,0.12)', 36, 1, true),
        hullSeries(fieldClump, 'rgba(0,0,0,0.22)', 30, 1, true),
        hullSeries(fieldMid, 'rgba(0,0,0,0.4)', 30, 1, true),
        hullSeries(fieldBlob, 'rgba(0,0,0,0.65)', 24, 1, true),
        hullSeries(fieldSubgiant, 'rgba(0,0,0,0.5)', 24, 1, true),
        {
            type: 'scatter', data: fieldStars, symbolSize: 4.5, silent: true, z: 2,
            itemStyle: { color: '#000', opacity: 1 }
        },
        hullSeries(modelWide, 'rgba(154,205,50,0.6)', 24, 3, true),
        hullSeries(modelCore, GREEN, 8, 3, false),
        {
            type: 'scatter', data: modelStars, symbolSize: 4.5, silent: true, z: 4,
            itemStyle: { color: GREEN, opacity: 1 }
        },
        {
            type: 'line', data: isochrone, showSymbol: false, smooth: 0.3, silent: true, z: 5, clip: true,
            lineStyle: { color: '#0000ff', width: 3 }
        },
        {
            name: legendNames[0], type: 'scatter', data: [clumpStar], z: 10,
            symbol: 'path://' + starPath, symbolSize: [31, 29],
            itemStyle: { color: '#ff0000', opacity: 1 }
        },
        sourceSeries(legendNames[1], primarySource, '#0000ff', '#0000ff'),
        sourceSeries(legendNames[2], parallaxSource, '#a52a2a', '#b33c3c'),
        sourceSeries(legendNames[3], closeInnerSource, '#ff00ff', '#ff00ff')
    ]
};

chart.setOption(option);
</script>
</body>
</html>
